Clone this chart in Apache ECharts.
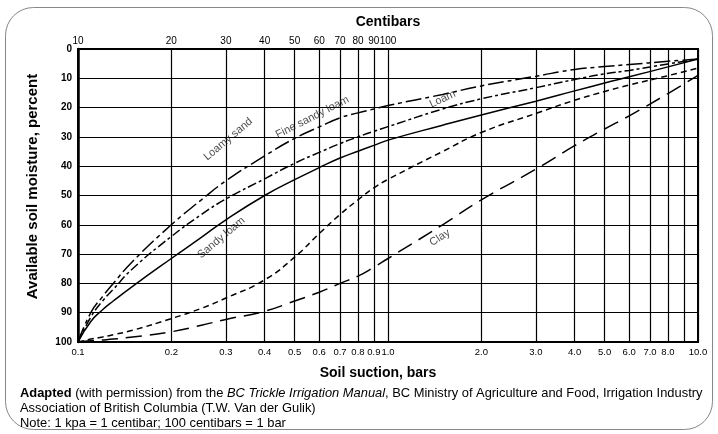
<!DOCTYPE html>
<html><head><meta charset="utf-8">
<script src="https://cdn.jsdelivr.net/npm/echarts@6/dist/echarts.min.js"></script>
<style>html,body{margin:0;padding:0;background:#fff}#c{width:718px;height:434px}</style>
</head><body><div id="c"></div>
<script>
// Soil suction (bars) at which curves were read
const suction = [0.1,0.11,0.12,0.13,0.15,0.2,0.25,0.3,0.4,0.5,0.6,0.7,0.8,0.9,1.0,1.5,2.0,3.0,4.0,5.0,6.0,8.0,10.0];
// Available soil moisture (%) for each soil type
const loamySand    = [100,90,84.5,80,72.5,60,51.5,45,36.5,30.5,26.6,23.5,21.8,20.5,19.3,15.5,12.6,9.3,7,6,5.3,4.2,3.4];
const fineSandyLoam= [100,91.5,86,82,75,64,56.5,51.2,44.3,39,35.3,32.3,30,28.1,26.5,20.5,17,13.2,10.4,8.5,7.3,5.1,3.5];
const sandyLoam    = [100,93,89,86,81,71.5,64.3,58.3,50,44.6,40.5,37.2,34.9,32.9,31.1,26,22.5,17.8,14.3,11.6,9.5,6.1,3.4];
const loam         = [100,99,98.3,97.5,96,92,88.5,85,78.8,71,63,56.5,51.5,47.4,44.5,35,28.5,22,17.5,14.5,12.3,9.1,6.5];
const clay         = [100,99.6,99.3,99,98.3,96.5,94.3,92.3,89.5,86,83,80,77.5,74.5,71.5,60,51.5,41,33,27.3,22.8,15.2,9];
// Tick values
const barTicks = [0.1,0.2,0.3,0.4,0.5,0.6,0.7,0.8,0.9,1,2,3,4,5,6,7,8,9,10];
const centibarTicks = [0.1,0.2,0.3,0.4,0.5,0.6,0.7,0.8,0.9,1];
// Curve name annotations (data coordinates)
const curveNames = ['Loamy sand','Fine sandy loam','Sandy loam','Loam','Clay'];
const nameX = [0.305,0.57,0.29,1.5,1.47];
const nameY = [30.8,23.3,64.4,17.1,64.4];
const nameRot = [40,27,40,25,33];

const FONT = 'Liberation Sans, Arial, sans-serif';
const chart = echarts.init(document.getElementById('c'), null, {renderer:'canvas'});

function lineSeries(name, vals, dash){
  return {
    name, type:'line', xAxisIndex:0, yAxisIndex:0,
    data: suction.map((s,i)=>[s, vals[i]]),
    symbol:'none', smooth:0.5,
    lineStyle:{color:'#000', width:1.5, type:dash},
    silent:true, z:5
  };
}

chart.setOption({
  animation:false,
  backgroundColor:'#fff',
  grid:{left:78, right:20, top:49, bottom:92, show:true, borderColor:'#000', borderWidth:2, backgroundColor:'transparent'},
  xAxis:[
    {type:'log', logBase:10, min:0.1, max:10, position:'bottom',
     name:'Soil suction, bars', nameLocation:'middle', nameGap:24,
     nameTextStyle:{fontFamily:FONT, fontWeight:'bold', fontSize:14, color:'#000', padding:[0,20,0,0]},
     axisLine:{show:true, lineStyle:{color:'#000', width:2}},
     axisTick:{show:false, customValues:barTicks},
     axisLabel:{customValues:barTicks, formatter:v=>Number(v).toFixed(1), fontFamily:FONT, fontSize:9.5, color:'#000', margin:5, hideOverlap:false, showMaxLabel:true, showMinLabel:true},
     splitLine:{show:true, lineStyle:{color:'#000', width:1.2}},
     minorSplitLine:{show:false}
    },
    {type:'log', logBase:10, min:0.1, max:10, position:'top',
     name:'Centibars', nameLocation:'middle', nameGap:20,
     nameTextStyle:{fontFamily:FONT, fontWeight:'bold', fontSize:14, color:'#000'},
     axisLine:{show:true, lineStyle:{color:'#000', width:2}},
     axisTick:{show:false, customValues:centibarTicks},
     axisLabel:{customValues:centibarTicks, formatter:v=>String(Math.round(v*100)), fontFamily:FONT, fontSize:10, color:'#000', margin:3, hideOverlap:false},
     splitLine:{show:false}
    }
  ],
  yAxis:[{
    type:'value', inverse:true, min:0, max:100, interval:10,
    name:'Available soil moisture, percent', nameLocation:'middle', nameGap:38, nameRotate:90,
    nameTextStyle:{fontFamily:'Liberation Sans Narrow, '+FONT, fontWeight:'bold', fontSize:15, color:'#000', padding:[0,0,0,18]},
    axisLine:{show:true, lineStyle:{color:'#000', width:2.5}},
    axisTick:{show:false},
    axisLabel:{formatter:v=>String(v), fontFamily:FONT, fontWeight:'bold', fontSize:10, color:'#000', margin:6},
    splitLine:{show:true, lineStyle:{color:'#000', width:1.2}}
  }],
  series:[
    lineSeries('Loamy sand', loamySand, [16,4,4,4]),
    lineSeries('Fine sandy loam', fineSandyLoam, [9,3,3,3]),
    lineSeries('Sandy loam', sandyLoam, 'solid'),
    lineSeries('Loam', loam, [6,4]),
    lineSeries('Clay', clay, [16,8]),
    {type:'scatter', xAxisIndex:0, yAxisIndex:0, symbolSize:0, silent:true, z:10,
     data: curveNames.map((n,i)=>({value:[nameX[i], nameY[i]], name:n,
       label:{show:true, position:'inside', formatter:n, rotate:nameRot[i], fontFamily:FONT, fontSize:11, color:'#222'}}))
    }
  ],
  graphic:[
    {type:'rect', silent:true, shape:{x:5.5, y:7.5, width:707, height:422, r:28}, style:{fill:null, stroke:'#888', lineWidth:1}},
    {type:'text', silent:true, x:20, y:393, style:{text:'{b|Adapted} (with permission) from the {i|BC Trickle Irrigation Manual}, BC Ministry of Agriculture and Food, Irrigation Industry',
      font:'12.9px '+FONT, fill:'#000', verticalAlign:'middle',
      rich:{b:{fontWeight:'bold', fontSize:12.9, fontFamily:FONT, fill:'#000'}, i:{fontStyle:'italic', fontSize:12.9, fontFamily:FONT, fill:'#000'}}}},
    {type:'text', silent:true, x:20, y:408, style:{text:'Association of British Columbia (T.W. Van der Gulik)', font:'12.9px '+FONT, fill:'#000', verticalAlign:'middle'}},
    {type:'text', silent:true, x:20, y:423, style:{text:'Note: 1 kpa = 1 centibar; 100 centibars = 1 bar', font:'12.9px '+FONT, fill:'#000', verticalAlign:'middle'}}
  ]
});
</script></body></html>
